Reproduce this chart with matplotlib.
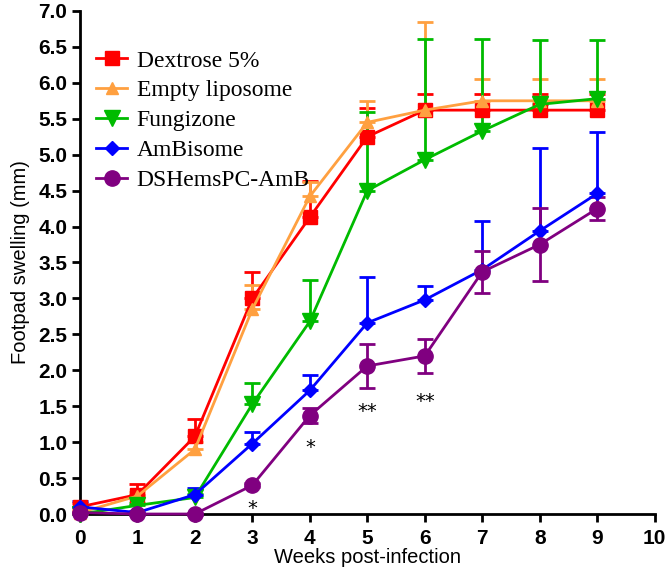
import numpy as np
import matplotlib
matplotlib.use("Agg")
import matplotlib.pyplot as plt
from matplotlib.lines import Line2D

# Dados
weeks = [0, 1, 2, 3, 4, 5, 6, 7, 8, 9]

dextrose = [0.10, 0.27, 1.08, 3.00, 4.13, 5.25, 5.62, 5.62, 5.62, 5.62]
dextrose_err = [0.05, 0.15, 0.24, 0.37, 0.50, 0.40, 0.22, 0.22, 0.22, 0.22]

empty_lipo = [0.02, 0.25, 0.90, 2.85, 4.42, 5.45, 5.62, 5.75, 5.75, 5.75]
empty_lipo_err = [0.03, 0.05, 0.10, 0.33, 0.20, 0.30, 1.23, 0.30, 0.30, 0.30]

fungizone = [0.00, 0.12, 0.23, 1.53, 2.68, 4.50, 4.93, 5.33, 5.70, 5.78]
fungizone_err = [0.02, 0.03, 0.05, 0.30, 0.58, 1.10, 1.68, 1.28, 0.90, 0.82]

ambisome = [0.10, 0.02, 0.27, 0.98, 1.72, 2.66, 2.98, 3.40, 3.94, 4.46]
ambisome_err = [0.08, 0.02, 0.09, 0.16, 0.21, 0.64, 0.19, 0.68, 1.16, 0.85]

dshems = [0.02, 0.00, 0.00, 0.40, 1.37, 2.06, 2.20, 3.37, 3.75, 4.25]
dshems_err = [0.01, 0.01, 0.01, 0.03, 0.10, 0.30, 0.24, 0.29, 0.51, 0.16]

# Asteriscos de significância
star_x = [3, 4, 5, 6]
star_y = [0.08, 0.92, 1.42, 1.56]
star_txt = ["*", "*", "**", "**"]

series = [
    ("Dextrose 5%", dextrose, dextrose_err, "#ff0000", "s", 10, False),
    ("Empty liposome", empty_lipo, empty_lipo_err, "#ffa040", "^", 9, False),
    ("Fungizone", fungizone, fungizone_err, "#00bb00", "v", 11, False),
    ("AmBisome", ambisome, ambisome_err, "#0000ff", "D", 7, False),
    ("DSHemsPC-AmB", dshems, dshems_err, "#800080", "o", 11, True),
]

fig = plt.figure(figsize=(6.66, 5.71), dpi=100)
ax = fig.add_axes([0.12, 0.0998, 0.863, 0.881])

handles = []
for label, y, err, color, marker, ms, both in series:
    if both:
        yerr = [err, err]
    else:
        yerr = [np.zeros(len(err)), err]
    ax.errorbar(weeks, y, yerr=yerr, color=color, marker=marker, markersize=ms,
                linewidth=2, elinewidth=2, capsize=6, capthick=2,
                clip_on=False, zorder=3)
    handles.append(Line2D([], [], color=color, marker=marker, markersize=ms,
                          linewidth=2, label=label))

for x, y, t in zip(star_x, star_y, star_txt):
    ax.text(x, y, t, ha="center", va="center", fontsize=14, color="black")

ax.set_xlim(0, 10)
ax.set_ylim(0, 7)
ax.set_xticks(range(0, 11))
ax.set_yticks(np.arange(0, 7.01, 0.5))
ax.set_yticklabels([f"{v:.1f}" for v in np.arange(0, 7.01, 0.5)])

for s in ["top", "right"]:
    ax.spines[s].set_visible(False)
for s in ["left", "bottom"]:
    ax.spines[s].set_linewidth(2)

ax.tick_params(direction="out", length=6, width=2, labelsize=15, pad=3)
ax.tick_params(axis="x", pad=5)
for lab in ax.get_xticklabels() + ax.get_yticklabels():
    lab.set_fontweight("bold")
    lab.set_family("Liberation Sans")

ax.set_xlabel("Weeks post-infection", fontsize=14.5, family="Liberation Sans", labelpad=0)
ax.set_ylabel("Footpad swelling (mm)", fontsize=14.5, family="Liberation Sans", labelpad=6)

leg = ax.legend(handles=handles, loc="upper left", bbox_to_anchor=(0.0, 0.955),
                frameon=False, prop={"family": "Liberation Serif", "size": 17},
                handlelength=1.3, handletextpad=0.4, labelspacing=0.35,
                borderaxespad=0.3)

plt.savefig("out.png", dpi=100)
plt.close()
